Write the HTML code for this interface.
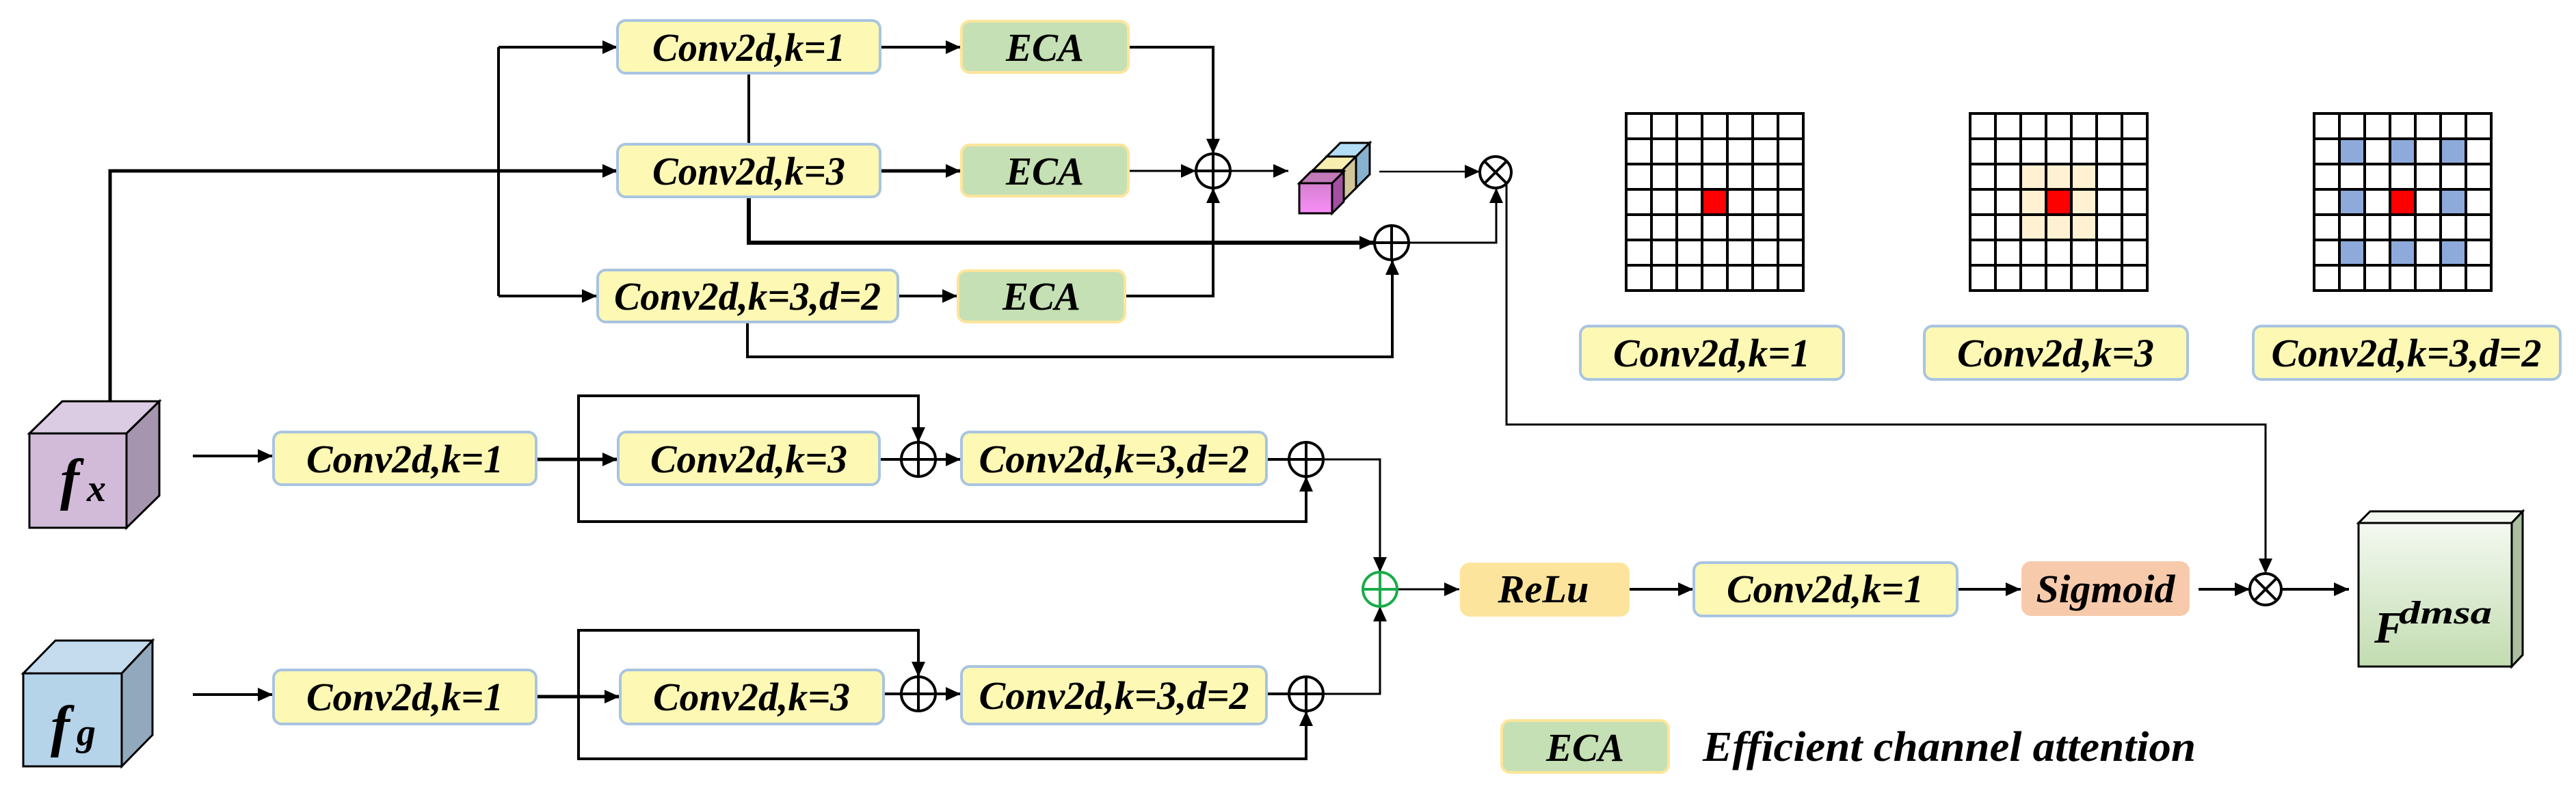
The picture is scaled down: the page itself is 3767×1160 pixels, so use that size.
<!DOCTYPE html>
<html><head><meta charset="utf-8"><style>
html,body{margin:0;padding:0;background:#fff;}
svg{display:block;}
svg text{font-family:"Liberation Serif","Times New Roman","DejaVu Serif",serif;font-weight:bold;font-style:italic;fill:#000;}
</style></head><body>
<svg width="3767" height="1160" viewBox="0 0 3767 1160" xmlns="http://www.w3.org/2000/svg" font-family="Liberation Serif, DejaVu Serif, serif" font-weight="bold" font-style="italic">
<defs>
<marker id="a" markerUnits="userSpaceOnUse" markerWidth="24" markerHeight="22" refX="22" refY="11" orient="auto">
<path d="M0,1 L22,11 L0,21 Z" fill="#000"/></marker>
<linearGradient id="gF" x1="0" y1="0" x2="0" y2="1"><stop offset="0" stop-color="#f4f9f1"/><stop offset="1" stop-color="#c2dcb0"/></linearGradient>
<linearGradient id="gM" x1="0" y1="0" x2="0" y2="1"><stop offset="0" stop-color="#d47fd0"/><stop offset="1" stop-color="#f98ef8"/></linearGradient>
</defs>
<g fill="none" stroke="#000" stroke-width="4">
<polyline points="729,69 729,433"/>
<polyline points="729,69 903,69" marker-end="url(#a)"/>
<polyline points="729,433 873,433" marker-end="url(#a)"/>
<polyline points="161,634 161,250 903,250" marker-end="url(#a)" stroke-width="5"/>
<polyline points="1095,107 1095,212"/>
<polyline points="1287,69 1405,69" marker-end="url(#a)"/>
<polyline points="1287,250 1405,250" marker-end="url(#a)" stroke-width="5"/>
<polyline points="1313,433 1400,433" marker-end="url(#a)"/>
<polyline points="1651,69 1774,69 1774,225" marker-end="url(#a)"/>
<polyline points="1651,250 1749,250" marker-end="url(#a)" stroke-width="3"/>
<polyline points="1646,433 1774,433 1774,275" marker-end="url(#a)"/>
<polyline points="1799,250 1884,250" marker-end="url(#a)" stroke-width="3"/>
<polyline points="2017,251 2164,251" marker-end="url(#a)" stroke-width="2.5"/>
<polyline points="1095,287 1095,355 2010,355" marker-end="url(#a)" stroke-width="6"/>
<polyline points="2060,355 2188,355 2188,275" marker-end="url(#a)" stroke-width="3"/>
<polyline points="1093,470 1093,522 2036,522 2036,380" marker-end="url(#a)"/>
<polyline points="2203,268 2203,621 3313,621 3313,839" marker-end="url(#a)" stroke-width="3"/>
<polyline points="282,667 399,667" marker-end="url(#a)"/>
<polyline points="784,672 903,672" marker-end="url(#a)" stroke-width="5"/>
<polyline points="846,672 846,579 1343,579 1343,647" marker-end="url(#a)"/>
<polyline points="846,672 846,763 1910,763 1910,697" marker-end="url(#a)"/>
<polyline points="1286,672 1318,672"/>
<polyline points="1368,672 1405,672" marker-end="url(#a)"/>
<polyline points="1852,672 1885,672"/>
<polyline points="1935,672 2018,672 2018,837" marker-end="url(#a)" stroke-width="3"/>
<polyline points="282,1016 399,1016" marker-end="url(#a)"/>
<polyline points="784,1019 906,1019" marker-end="url(#a)" stroke-width="5"/>
<polyline points="846,1019 846,922 1343,922 1343,990" marker-end="url(#a)"/>
<polyline points="846,1019 846,1110 1910,1110 1910,1040" marker-end="url(#a)"/>
<polyline points="1292,1015 1318,1015"/>
<polyline points="1368,1015 1405,1015" marker-end="url(#a)"/>
<polyline points="1852,1015 1885,1015"/>
<polyline points="1935,1015 2018,1015 2018,887" marker-end="url(#a)" stroke-width="3"/>
<polyline points="2043,862 2134,862" marker-end="url(#a)" stroke-width="3"/>
<polyline points="2383,862 2476,862" marker-end="url(#a)"/>
<polyline points="2862,862 2955,862" marker-end="url(#a)"/>
<polyline points="3215,862 3290,862" marker-end="url(#a)"/>
<polyline points="3336,862 3435,862" marker-end="url(#a)"/>
</g>

<g stroke="#a8c4e0" stroke-width="4" fill="#fdf8b4">
<rect x="903" y="30" width="384" height="77" rx="12"/>
<rect x="903" y="211" width="384" height="77" rx="12"/>
<rect x="874" y="395" width="439" height="76" rx="12"/>
<rect x="400" y="632" width="384" height="77" rx="12"/>
<rect x="904" y="632" width="382" height="77" rx="12"/>
<rect x="1406" y="632" width="446" height="77" rx="12"/>
<rect x="400" y="980" width="384" height="79" rx="12"/>
<rect x="907" y="980" width="385" height="79" rx="12"/>
<rect x="1406" y="975" width="446" height="84" rx="12"/>
<rect x="2477" y="823" width="385" height="78" rx="12"/>
<rect x="2311" y="477" width="385" height="78" rx="12"/>
<rect x="2814" y="477" width="385" height="78" rx="12"/>
<rect x="3295" y="477" width="449" height="78" rx="12"/>
</g>
<g stroke="#fde59b" stroke-width="4" fill="#c5e0b4">
<rect x="1406" y="31" width="244" height="75" rx="12"/>
<rect x="1406" y="212" width="244" height="75" rx="12"/>
<rect x="1401" y="396" width="244" height="75" rx="12"/>
<rect x="2196" y="1054" width="244" height="76" rx="12"/>
</g>
<rect x="2135" y="823" width="248" height="79" rx="14" fill="#fde49c"/>
<rect x="2956" y="821" width="246" height="80" rx="14" fill="#f7caac"/>

<g font-size="58" text-anchor="middle">
<text x="1095" y="89" textLength="282" lengthAdjust="spacingAndGlyphs">Conv2d,k=1</text>
<text x="1095" y="270" textLength="282" lengthAdjust="spacingAndGlyphs">Conv2d,k=3</text>
<text x="1093" y="453" textLength="390" lengthAdjust="spacingAndGlyphs">Conv2d,k=3,d=2</text>
<text x="592" y="691" textLength="288" lengthAdjust="spacingAndGlyphs">Conv2d,k=1</text>
<text x="1095" y="691" textLength="288" lengthAdjust="spacingAndGlyphs">Conv2d,k=3</text>
<text x="1629" y="691" textLength="395" lengthAdjust="spacingAndGlyphs">Conv2d,k=3,d=2</text>
<text x="592" y="1039" textLength="288" lengthAdjust="spacingAndGlyphs">Conv2d,k=1</text>
<text x="1099" y="1039" textLength="288" lengthAdjust="spacingAndGlyphs">Conv2d,k=3</text>
<text x="1629" y="1037" textLength="395" lengthAdjust="spacingAndGlyphs">Conv2d,k=3,d=2</text>
<text x="2669" y="881" textLength="288" lengthAdjust="spacingAndGlyphs">Conv2d,k=1</text>
<text x="2503" y="536" textLength="288" lengthAdjust="spacingAndGlyphs">Conv2d,k=1</text>
<text x="3006" y="536" textLength="288" lengthAdjust="spacingAndGlyphs">Conv2d,k=3</text>
<text x="3519" y="536" textLength="395" lengthAdjust="spacingAndGlyphs">Conv2d,k=3,d=2</text>
<text x="1528" y="89" textLength="114" lengthAdjust="spacingAndGlyphs">ECA</text>
<text x="1528" y="270" textLength="114" lengthAdjust="spacingAndGlyphs">ECA</text>
<text x="1523" y="453" textLength="114" lengthAdjust="spacingAndGlyphs">ECA</text>
<text x="2318" y="1113" textLength="114" lengthAdjust="spacingAndGlyphs">ECA</text>
<text x="2257" y="881" textLength="133" lengthAdjust="spacingAndGlyphs">ReLu</text>
<text x="3079" y="881" textLength="203" lengthAdjust="spacingAndGlyphs">Sigmoid</text>
</g>
<text x="2490" y="1113" font-size="62" textLength="721" lengthAdjust="spacingAndGlyphs">Efficient channel attention</text>

<g fill="#fff" stroke="#000" stroke-width="4">
<g><circle cx="1774" cy="250" r="25"/><path d="M1749,250H1799M1774,225V275"/></g>
<g><circle cx="2035" cy="355" r="25"/><path d="M2010,355H2060M2035,330V380"/></g>
<g><circle cx="1343" cy="672" r="25"/><path d="M1318,672H1368M1343,647V697"/></g>
<g><circle cx="1910" cy="672" r="25"/><path d="M1885,672H1935M1910,647V697"/></g>
<g><circle cx="1343" cy="1015" r="25"/><path d="M1318,1015H1368M1343,990V1040"/></g>
<g><circle cx="1910" cy="1015" r="25"/><path d="M1885,1015H1935M1910,990V1040"/></g>
<g stroke="#1aab4a"><circle cx="2018" cy="862" r="25"/><path d="M1993,862H2043M2018,837V887"/></g>
<g><circle cx="2187" cy="252" r="23"/><path d="M2171,236L2203,268M2203,236L2171,268"/></g>
<g><circle cx="3313" cy="862" r="23"/><path d="M3297,846L3329,878M3329,846L3297,878"/></g>
</g>

<g stroke="#000" stroke-width="3">
<polygon points="1940,229 1983,229 2003,209 1960,209" fill="#b3dcf5"/>
<polygon points="1983,229 2003,209 2003,255 1983,275" fill="#88b0cf"/>
<rect x="1940" y="229" width="43" height="46" fill="#a8cde8"/>
<polygon points="1920,249 1963,249 1983,229 1940,229" fill="#f8eeb0"/>
<polygon points="1963,249 1983,229 1983,275 1963,295" fill="#d3c79a"/>
<rect x="1920" y="249" width="43" height="46" fill="#f3e6a9"/>
<polygon points="1900,268 1948,268 1965,251 1917,251" fill="#c27ab9"/>
<polygon points="1948,268 1965,251 1965,295 1948,312" fill="#a450a2"/>
<rect x="1900" y="268" width="48" height="44" fill="url(#gM)"/>
</g>

<g stroke="#000" stroke-width="3">
<polygon points="43,634 185,634 233,587 91,587" fill="#dccce3"/>
<polygon points="185,634 233,587 233,725 185,772" fill="#a695ae"/>
<rect x="43" y="634" width="142" height="138" fill="#d1bbd9"/>
<polygon points="34,985 178,985 223,937 81,937" fill="#c5dcef"/>
<polygon points="178,985 223,937 223,1075 178,1121" fill="#92a9bd"/>
<rect x="34" y="985" width="144" height="136" fill="#b5d3e9"/>
<polygon points="3449,765 3673,765 3689,748 3466,748" fill="#f2f7ef"/>
<polygon points="3673,765 3689,748 3689,958 3673,975" fill="#a9bf9f"/>
<rect x="3449" y="765" width="224" height="210" fill="url(#gF)"/>
</g>
<text x="88" y="729" font-size="84">f</text>
<text x="127" y="733" font-size="56">x</text>
<text x="74" y="1090" font-size="84">f</text>
<text x="112" y="1090" font-size="56">g</text>
<text x="3472" y="940" font-size="66">F</text>
<text x="3508" y="912" font-size="48" textLength="136" lengthAdjust="spacingAndGlyphs">dmsa</text>

<g stroke="#000" stroke-width="4">
<g transform="translate(2378,166)">
<rect x="111" y="111" width="37" height="37" fill="#ff0000" stroke="none"/>
<path fill="none" d="M0,0H259V259H0Z M37,0V259M74,0V259M111,0V259M148,0V259M185,0V259M222,0V259 M0,37H259M0,74H259M0,111H259M0,148H259M0,185H259M0,222H259"/>
</g>
<g transform="translate(2881,166)">
<rect x="74" y="74" width="111" height="111" fill="#fff1d2" stroke="none"/>
<rect x="111" y="111" width="37" height="37" fill="#ff0000" stroke="none"/>
<path fill="none" d="M0,0H259V259H0Z M37,0V259M74,0V259M111,0V259M148,0V259M185,0V259M222,0V259 M0,37H259M0,74H259M0,111H259M0,148H259M0,185H259M0,222H259"/>
</g>
<g transform="translate(3384,166)">
<g fill="#8eaadb" stroke="none">
<rect x="37" y="37" width="37" height="37"/><rect x="111" y="37" width="37" height="37"/><rect x="185" y="37" width="37" height="37"/>
<rect x="37" y="111" width="37" height="37"/><rect x="185" y="111" width="37" height="37"/>
<rect x="37" y="185" width="37" height="37"/><rect x="111" y="185" width="37" height="37"/><rect x="185" y="185" width="37" height="37"/>
</g>
<rect x="111" y="111" width="37" height="37" fill="#ff0000" stroke="none"/>
<path fill="none" d="M0,0H259V259H0Z M37,0V259M74,0V259M111,0V259M148,0V259M185,0V259M222,0V259 M0,37H259M0,74H259M0,111H259M0,148H259M0,185H259M0,222H259"/>
</g>
</g>
</svg>
</body></html>
